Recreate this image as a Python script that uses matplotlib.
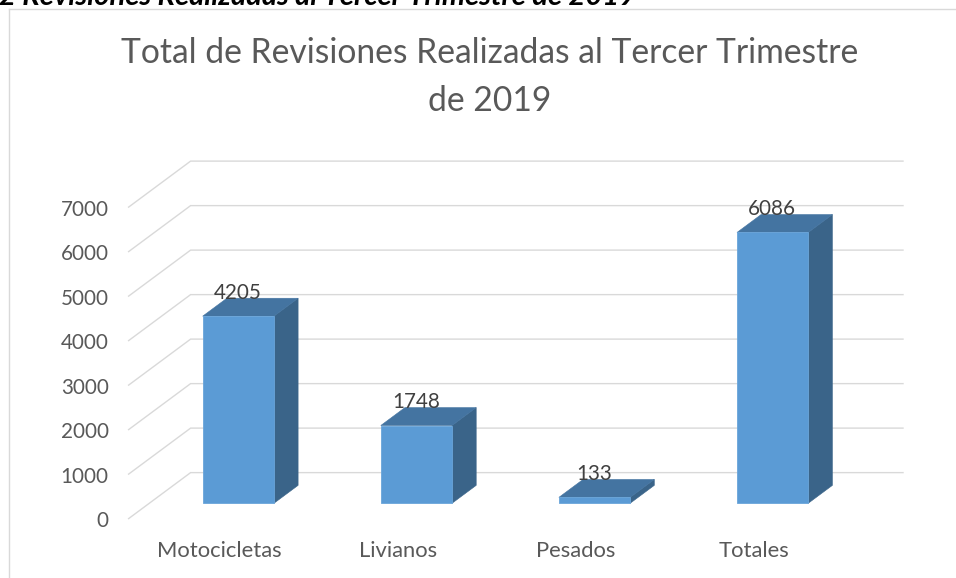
import matplotlib
matplotlib.use('Agg')
import matplotlib.pyplot as plt
from matplotlib.patches import Polygon
from matplotlib.lines import Line2D

# ---------------- data ----------------
categories = ['Motocicletas', 'Livianos', 'Pesados', 'Totales']
values = [4205, 1748, 133, 6086]
y_ticks = [0, 1000, 2000, 3000, 4000, 5000, 6000, 7000]
title_lines = ['Total de Revisiones Realizadas al Tercer Trimestre', 'de 2019']
caption = '2 Revisiones Realizadas al Tercer Trimestre de 2019'

# ---------------- layout ----------------
W, H, DPI = 956, 578, 100
FONT = 'Lato'
PT = 72.0 / DPI  # points per pixel

fig = plt.figure(figsize=(W / DPI, H / DPI), dpi=DPI)
fig.patch.set_facecolor('white')
ax = fig.add_axes([0, 0, 1, 1])
ax.axis('off')

PX_PER_CAT = 178.1
CAT0_PX = 238.3
PX_PER_VAL = 0.0445
ZERO_PY = 503.3
ax.set_xlim(-CAT0_PX / PX_PER_CAT, (W - CAT0_PX) / PX_PER_CAT)
ax.set_ylim((ZERO_PY - H) / PX_PER_VAL, ZERO_PY / PX_PER_VAL)

DDX = 62 / PX_PER_CAT
DDY = 46 / PX_PER_VAL
F1 = 0.333
F2 = F1 + 0.39
BAR_W = 0.4
X_L, X_R = -0.5, len(categories) - 0.5


def P(x, v, d):
    return (x + (d - F1) * DDX, v + (d - F1) * DDY)


GRID = '#d9d9d9'
for t in y_ticks:
    a, b, c = P(X_L, t, 0), P(X_L, t, 1), P(X_R, t, 1)
    ax.plot([a[0], b[0], c[0]], [a[1], b[1], c[1]], color=GRID, lw=1.0,
            solid_joinstyle='miter', zorder=1)

FRONT, SIDE, TOP = '#5B9BD5', '#3A6489', '#4474A1'
for i, v in enumerate(values):
    x0, x1 = i - BAR_W / 2, i + BAR_W / 2
    front = [P(x0, 0, F1), P(x1, 0, F1), P(x1, v, F1), P(x0, v, F1)]
    side = [P(x1, 0, F1), P(x1, 0, F2), P(x1, v, F2), P(x1, v, F1)]
    top = [P(x0, v, F1), P(x1, v, F1), P(x1, v, F2), P(x0, v, F2)]
    ax.add_patch(Polygon(side, closed=True, fc=SIDE, ec=SIDE, lw=0.4, zorder=3))
    ax.add_patch(Polygon(top, closed=True, fc=TOP, ec=TOP, lw=0.4, zorder=3))
    ax.add_patch(Polygon(front, closed=True, fc=FRONT, ec='#6AA5DA', lw=0.6, zorder=4))

# tick labels
tick_texts = []
for t in y_ticks:
    tt = ax.annotate(str(t), xy=P(X_L, t, 0), xytext=(-20 * PT, -8.5 * PT),
                     textcoords='offset points', ha='right', va='baseline',
                     color='#595959', fontsize=16, family=FONT, zorder=5)
    tick_texts.append(tt)

# category labels
cat_texts = []
for i, c in enumerate(categories):
    ct = ax.annotate(c, xy=P(i, 0, 0), xytext=(2 * PT, -38 * PT),
                     textcoords='offset points', ha='center', va='baseline',
                     color='#595959', fontsize=17, family=FONT, zorder=5)
    cat_texts.append(ct)

# value labels
val_texts = []
for i, v in enumerate(values):
    vt = ax.annotate(str(v), xy=P(i, v, F1), xytext=(-0.5 * PT, 17.4 * PT),
                     textcoords='offset points', ha='center', va='baseline',
                     color='#404040', fontsize=16, family=FONT, zorder=6)
    val_texts.append(vt)

# title
t1 = fig.text(490 / W, 1 - 63.3 / H, title_lines[0], ha='center', va='baseline',
              color='#595959', fontsize=22, family=FONT)
t2 = fig.text(490 / W, 1 - 111 / H, title_lines[1], ha='center', va='baseline',
              color='#595959', fontsize=22, family=FONT)

# caption (cut at top)
cap = fig.text(-1 / W, 1 - 5 / H, caption, ha='left', va='baseline',
               color='black', fontsize=15, family=FONT, fontweight='bold',
               fontstyle='italic')

# chart frame
fig.add_artist(Line2D([8.5 / W, 8.5 / W], [0, 1 - 9 / H], color=GRID, lw=1.0))
fig.add_artist(Line2D([8.5 / W, 1], [1 - 9 / H, 1 - 9 / H], color=GRID, lw=1.0))


def fit(ref, texts, target_px):
    fig.canvas.draw()
    r = fig.canvas.get_renderer()
    w = ref.get_window_extent(r).width
    s = ref.get_fontsize() * target_px / w
    for t in texts:
        t.set_fontsize(s)


fit(t1, [t1, t2], 736)
fit(cat_texts[0], cat_texts, 125)
fit(tick_texts[-1], tick_texts + val_texts, 48)
fit(cap, [cap], 640)

fig.savefig('out.png', dpi=DPI, facecolor='white')
